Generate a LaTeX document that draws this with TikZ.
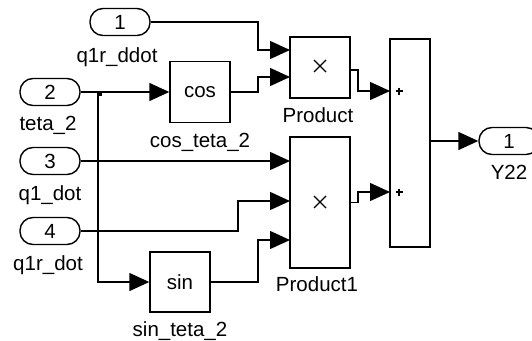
\documentclass[tikz,border=0pt]{standalone}
\usepackage{fontspec}
\setmainfont{Liberation Sans}
\usetikzlibrary{arrows.meta}
\begin{document}
\begin{tikzpicture}[x=1pt,y=-1pt,line width=1.4pt,
  txt/.style={font=\fontsize{20.5}{23}\selectfont},
  blk/.style={draw,txt,line width=1.4pt,minimum width=60pt,inner sep=0pt},
  pill/.style={draw,txt,rounded corners=13pt,minimum width=60pt,minimum height=27pt,inner sep=0pt},
  lbl/.style={txt,anchor=base,inner sep=0pt},
  wire/.style={line width=1.4pt},
  arr/.style={wire,-{Triangle[length=20pt,width=18pt]}},
  jdot/.style={fill,minimum size=5pt,inner sep=0pt},
  times/.style={line width=1.3pt},
  plusmark/.style={line width=1.6pt}
  ]
\useasboundingbox (0,0) rectangle (532,340);
% ports
\node[pill] (in1) at (120,22) {1};
\node[pill] (in2) at (50,92) {2};
\node[pill] (in3) at (50,161) {3};
\node[pill] (in4) at (50,231) {4};
\node[pill] (out1) at (509,141) {1};
% blocks
\node[blk,minimum height=61pt] (cos) at (200,92) {cos};
\node[blk,minimum height=60pt] (sin) at (180,282) {sin};
\node[blk,minimum height=61pt] (prod) at (320,67.5) {};
\node[blk,minimum height=131pt] (prod1) at (320,202.5) {};
\node[draw,line width=1.4pt,minimum width=40pt,minimum height=208pt,inner sep=0pt] (sum) at (410,143) {};
% multiply marks
\draw[times] (314,60) -- (326,72) (314,72) -- (326,60);
\draw[times] (314,196) -- (326,208) (314,208) -- (326,196);
% plus marks
\draw[plusmark] (395.5,91) -- (402.5,91) (399,87.5) -- (399,94.5);
\draw[plusmark] (395.5,192) -- (402.5,192) (399,188.5) -- (399,195.5);
% labels
\node[lbl] (l1) at (117,62) {q1r\_ddot};
\node[lbl] (l2) at (48,130) {teta\_2};
\node[lbl] (l3) at (50,200) {q1\_dot};
\node[lbl] (l4) at (48,270) {q1r\_dot};
\node[lbl] (l5) at (509,179) {Y22};
\node[lbl] (l6) at (200,147) {cos\_teta\_2};
\node[lbl] (l7) at (180,336) {sin\_teta\_2};
\node[lbl] (l8) at (318,122) {Product};
\node[lbl] (l9) at (317,291) {Product1};
% port coordinates
\coordinate (pa) at (290,50);
\coordinate (pb) at (290,77);
\coordinate (pc) at (290,161);
\coordinate (pd) at (290,201);
\coordinate (pe) at (290,240);
\coordinate (po) at (350,70);
\coordinate (sa) at (390,91);
\coordinate (sb) at (390,192);
\coordinate (j) at (98,92);
\node[jdot] (jd) at (99,93) {};
% wires
\draw[arr] (in1.east) -| (258,50) -- (pa);
\draw[arr] (in2.east) -- (cos.west);
\draw[arr] (j) |- (sin.west);
\draw[arr] (cos.east) -- (258,92) |- (pb);
\draw[arr] (in3.east) -- (pc);
\draw[arr] (in4.east) -- (238,231) |- (pd);
\draw[arr] (sin.east) -- (258,282) |- (pe);
\draw[arr] (po) -- (358,70) |- (sa);
\draw[arr] (prod1.east) -- (358,202.5) |- (sb);
\draw[arr] (sum.east |- out1.west) -- (out1.west);
\end{tikzpicture}
\end{document}
